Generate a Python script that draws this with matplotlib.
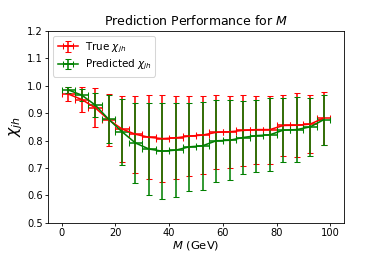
import numpy as np
import matplotlib
matplotlib.use('Agg')
import matplotlib.pyplot as plt

# bin centres in M (GeV), 5 GeV wide bins
m_bins = [2.5, 7.5, 12.5, 17.5, 22.5, 27.5, 32.5, 37.5, 42.5, 47.5,
          52.5, 57.5, 62.5, 67.5, 72.5, 77.5, 82.5, 87.5, 92.5, 97.5]
m_halfwidth = 2.5

# true chi_jh mean and spread per bin
true_chi = [0.970, 0.950, 0.920, 0.876, 0.842, 0.823, 0.812, 0.807, 0.810, 0.816,
            0.820, 0.830, 0.832, 0.837, 0.840, 0.840, 0.855, 0.856, 0.860, 0.882]
true_err = [0.027, 0.046, 0.072, 0.095, 0.120, 0.141, 0.153, 0.158, 0.152, 0.145,
            0.144, 0.135, 0.132, 0.129, 0.124, 0.124, 0.112, 0.116, 0.107, 0.097]

# predicted chi_jh mean and spread per bin
pred_chi = [0.985, 0.966, 0.930, 0.878, 0.832, 0.791, 0.769, 0.761, 0.765, 0.777,
            0.781, 0.799, 0.801, 0.811, 0.818, 0.821, 0.838, 0.840, 0.850, 0.876]
pred_err = [0.011, 0.022, 0.045, 0.088, 0.120, 0.148, 0.168, 0.176, 0.172, 0.162,
            0.160, 0.150, 0.146, 0.135, 0.132, 0.133, 0.118, 0.120, 0.106, 0.092]

plt.figure(figsize=(382/75., 255/75.), dpi=75)
plt.subplots_adjust(left=0.126, right=0.9, top=0.878, bottom=0.127)
plt.errorbar(m_bins, true_chi, xerr=m_halfwidth, yerr=true_err, color='r',
             capsize=3, linewidth=1.5, label=r'True $\chi_{jh}$')
plt.errorbar(m_bins, pred_chi, xerr=m_halfwidth, yerr=pred_err, color='g',
             capsize=3, linewidth=1.5, label=r'Predicted $\chi_{jh}$')
plt.ylim(0.5, 1.2)
plt.title('Prediction Performance for $M$')
plt.xlabel('$M$ (GeV)', fontsize=11, labelpad=1)
plt.ylabel(r'$\chi_{jh}$', fontsize=15, labelpad=2)
plt.tick_params(labelsize=9.5, pad=2, length=3)
plt.legend(loc='upper left', labelspacing=0.3, borderpad=0.4, handletextpad=0.6)
plt.savefig('out.png', dpi=75)
